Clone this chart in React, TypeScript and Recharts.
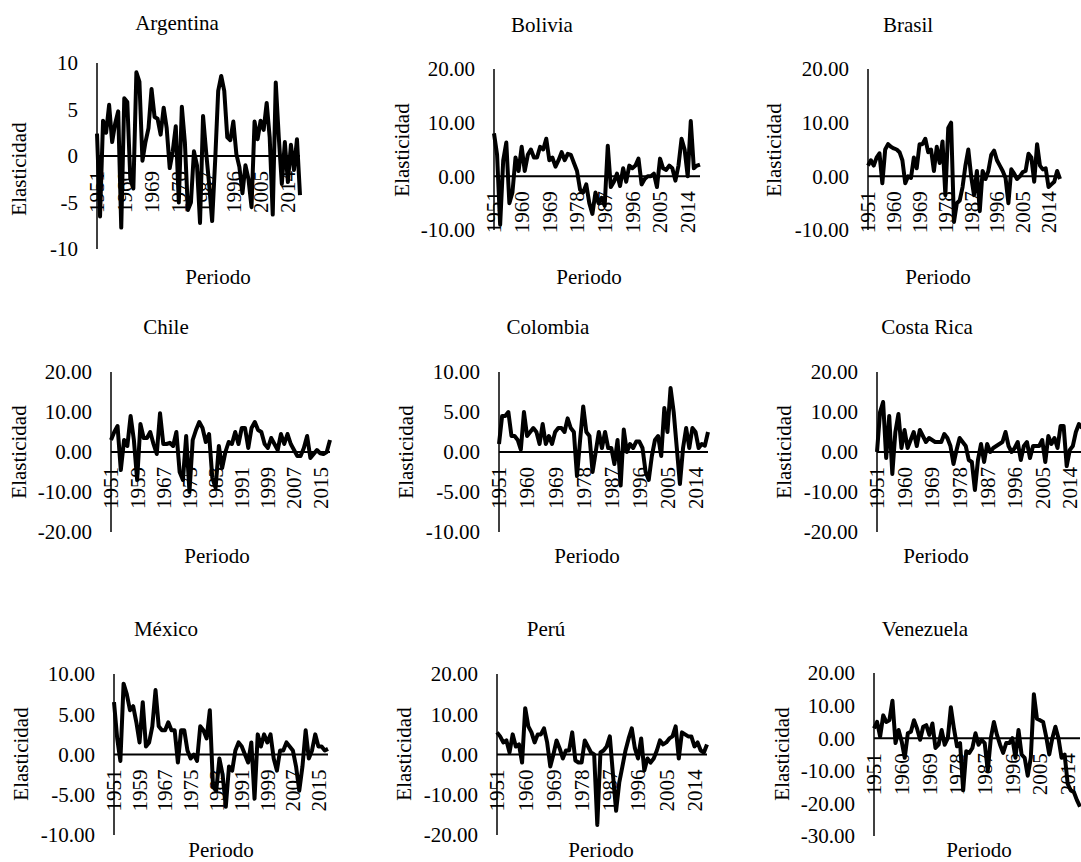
import { LineChart, Line, XAxis, YAxis, ReferenceLine } from 'recharts';

// x categories: one point per year, 1951-2018
const years = Array.from({ length: 68 }, (_, i) => 1951 + i);

const argentina = [
  2.4, -6.5, 3.8, 2.5, 5.5, 1.5, 3.5, 4.8, -7.7, 6.2, 5.8, -2.5, -3.5, 9.0, 8.0, -0.5, 1.5, 3.0, 7.2, 4.2,
  4.0, 2.3, 5.2, 3.0, -1.3, 0.5, 3.2, -5.0, 5.3, 1.5, -5.8, -5.0, 0.5, -1.0, -7.2, 4.3, 0.5, -3.0, -7.0, -0.5,
  7.0, 8.6, 7.0, 2.0, 1.7, 3.7, 0.2, -1.2, -4.0, -1.0, -2.5, -5.5, 3.7, 1.8, 3.8, 2.8, 5.7, 2.0, -6.3, 7.9,
  2.0, -3.0, 1.5, -2.8, 1.2, -1.5, 1.8, -4.2,
];
const bolivia = [
  8.0, 4.0, -9.0, 3.0, 6.3, -5.0, -3.0, 3.5, 1.0, 5.5, 1.0, 4.0, 5.0, 3.5, 3.5, 5.5, 5.0, 7.0, 3.0, 3.5,
  1.8, 3.0, 4.5, 3.0, 4.2, 4.0, 2.5, 1.0, -2.5, -3.0, -1.5, -5.0, -7.0, -3.0, -5.0, -4.0, -5.5, 5.7, -2.0, -1.0,
  0.5, -1.8, 1.5, -1.0, 2.0, 1.5, 2.0, 3.3, -1.5, -0.5, 0.0, 0.0, 0.5, -2.0, 3.3, 1.5, 1.2, 2.0, 1.5, -0.8,
  2.0, 7.0, 5.0, 0.0, 10.3, 1.5, 2.0, 2.2,
];
const brasil = [
  2.0, 3.0, 2.0, 3.5, 4.3, -1.3, 5.0, 6.0, 5.5, 5.2, 5.0, 4.5, 3.0, -1.3, 0.0, -0.3, 3.5, 1.5, 6.0, 6.0,
  7.0, 4.5, 5.0, 1.0, 5.5, 2.5, 6.5, -3.5, 9.0, 10.0, -8.5, -5.0, -4.5, -2.0, 2.0, 5.0, 0.0, -3.5, 1.0, -6.5,
  1.0, -0.5, 1.0, 4.0, 4.8, 3.0, 2.0, 1.0, -0.3, -5.0, 1.3, 0.5, -0.5, 0.0, 0.8, 1.0, 4.2, 3.5, -1.0, 6.0,
  2.0, 1.3, 1.5, -2.0, -1.5, -1.0, 1.0, -0.5,
];
const chile = [
  3.0, 5.0, 6.5, -4.5, 3.0, 1.5, 9.0, 3.0, -7.0, 7.0, 3.5, 3.5, 5.0, 2.0, -0.5, 9.7, 2.0, 2.0, 2.3, 1.5,
  5.0, -5.0, -7.0, 4.0, -10.0, 3.0, 5.5, 7.5, 6.0, 2.5, 4.5, -6.5, -9.0, 1.5, -4.0, 0.0, 2.5, 2.0, 5.0, 2.0,
  6.0, 6.0, 1.0, 6.0, 7.5, 5.5, 5.0, 2.0, 1.0, 3.5, 2.0, 0.5, 4.5, 2.0, 4.5, 2.0, 0.5, -1.0, -1.0, 1.0,
  4.0, -1.5, -0.5, 0.5, -0.3, -0.5, 0.0, 3.0,
];
const colombia = [
  1.0, 4.5, 4.5, 5.0, 2.0, 2.0, 1.5, 0.3, 5.0, 2.0, 2.5, 3.0, 2.5, 1.0, 3.5, 1.0, 2.0, 1.0, 2.5, 3.0,
  3.0, 2.5, 4.2, 3.0, 2.5, -3.0, 1.5, 5.7, 2.5, 2.0, -2.5, 0.0, 2.5, 0.5, 2.5, 0.5, 0.5, -1.5, 1.5, -4.2,
  2.8, 0.0, 1.0, 0.5, 1.3, 1.3, 0.5, -2.5, -3.5, -0.5, 1.5, 2.0, -0.5, 5.5, 2.5, 8.0, 5.0, 0.5, -4.0, 0.5,
  3.0, 0.5, 3.0, 2.5, 0.5, 1.0, 0.8, 2.5,
];
const costaRica = [
  0.0, 10.0, 12.5, -1.5, 9.0, -5.5, 5.0, 9.5, 1.0, 5.5, 1.0, 3.0, 5.0, 1.5, 5.5, 4.0, 2.5, 3.5, 3.0, 2.5,
  2.5, 2.5, 4.5, 3.5, 1.5, -3.0, 0.5, 3.5, 2.5, 1.5, -2.0, -2.5, -9.5, -2.0, 2.0, -2.5, 2.0, 0.0, 1.0, 1.5,
  2.0, 2.5, 5.0, 1.5, 0.0, 1.0, 2.5, -2.0, 1.5, 2.5, -1.5, 1.5, 1.5, 1.5, 3.0, -2.5, 4.0, 2.0, 3.5, 1.0,
  6.5, 6.5, -3.5, 0.5, 1.5, 5.0, 7.0, 6.0,
];
const mexico = [
  6.5, 2.0, -0.8, 8.8, 7.5, 5.5, 6.0, 4.0, 1.5, 6.5, 1.0, 1.5, 3.5, 8.0, 3.5, 3.0, 3.0, 4.0, 3.0, 3.0,
  -1.0, 3.0, 3.0, 0.5, -0.5, 0.0, -0.8, 3.5, 3.0, 2.0, 5.5, -4.0, -4.5, -0.5, -2.5, -6.5, -1.5, -2.0, 0.5, 1.5,
  1.0, 0.0, -1.0, 1.5, -5.5, 2.5, 1.0, 2.5, 1.5, 2.5, -0.5, -2.0, 0.5, 0.5, 1.5, 1.0, 0.5, -1.5, -4.5, -1.5,
  3.0, -0.5, 0.5, 2.5, 1.0, 1.0, 0.5, 0.7,
];
const peru = [
  5.5, 4.5, 3.0, 3.5, 0.5, 5.0, 2.0, 2.5, -2.0, 11.5, 7.0, 5.5, 3.0, 5.0, 5.0, 6.5, 3.0, -3.0, 0.0, 3.5,
  1.5, -1.0, 1.0, 1.0, 5.5, -1.5, -2.0, -2.0, 3.5, 2.0, 0.5, 0.0, -17.5, 0.5, 1.0, 2.0, 4.5, -5.0, -14.0, -7.0,
  -3.0, 1.0, 4.0, 6.5, 1.5, -1.0, 4.0, -4.0, -1.0, -2.0, -1.0, 1.0, 3.5, 2.5, 3.0, 4.0, 4.5, 7.0, -1.0, 5.5,
  5.0, 4.5, 4.5, 2.0, 3.0, 1.0, 0.5, 2.5,
];
const venezuela = [
  3.0, 5.0, 0.5, 7.0, 5.0, 5.5, 11.5, -1.5, 2.5, -1.0, -6.0, 1.5, 2.0, 5.5, 3.0, -0.5, 3.5, 4.0, 1.0, 4.5,
  -3.0, -2.0, 2.5, -2.0, 0.0, 9.5, 3.0, -2.5, -1.5, -16.0, -4.0, -4.5, -3.0, 1.5, -2.0, -0.5, -1.5, -10.0, 0.0, 5.0,
  1.0, -2.0, -4.5, -1.5, -1.5, 0.0, -6.0, 2.5, -5.0, -6.0, -11.5, -6.0, 13.5, 6.0, 5.5, 5.0, 0.5, -5.0, 0.0, 3.5,
  0.0, -6.0, -5.0, -14.0, -16.0, -16.5, -19.0, -21.0,
];

const ticksArg = [-10, -5, 0, 5, 10];
const ticks10 = [-10, -5, 0, 5, 10];
const ticksBol = [-10, 0, 10, 20];
const ticks20 = [-20, -10, 0, 10, 20];
const ticksVen = [-30, -20, -10, 0, 10, 20];

const FONT = '"Liberation Serif", "Times New Roman", serif';
const FS = 21;
const AXW = 80;
const TOP = 16;
const RIGHT = 4;
const XH = 2;
const BOTTOM = 16;

const panels = [
  { name: 'Argentina', values: argentina, ticks: ticksArg, dec: false, every: 8, box: { x: 97, y: 63, w: 203, h: 186 }, title: [177, 23], ylab: [19, 169], xlab: [218, 277] },
  { name: 'Bolivia', values: bolivia, ticks: ticksBol, dec: true, every: 8, box: { x: 494, y: 69, w: 206, h: 161 }, title: [542, 25], ylab: [402, 150], xlab: [589, 277] },
  { name: 'Brasil', values: brasil, ticks: ticksBol, dec: true, every: 8, box: { x: 868, y: 69, w: 192, h: 161 }, title: [908, 25], ylab: [774, 150], xlab: [938, 277] },
  { name: 'Chile', values: chile, ticks: ticks20, dec: true, every: 7, box: { x: 111, y: 372, w: 219, h: 160 }, title: [166, 327], ylab: [19, 452], xlab: [217, 556] },
  { name: 'Colombia', values: colombia, ticks: ticks10, dec: true, every: 8, box: { x: 499, y: 372, w: 209, h: 160 }, title: [548, 327], ylab: [406, 452], xlab: [587, 556] },
  { name: 'Costa Rica', values: costaRica, ticks: ticks20, dec: true, every: 8, box: { x: 877, y: 372, w: 205, h: 160 }, title: [927, 327], ylab: [784, 452], xlab: [936, 556] },
  { name: 'México', values: mexico, ticks: ticks10, dec: true, every: 7, box: { x: 114, y: 674, w: 214, h: 161 }, title: [166, 629], ylab: [21, 754], xlab: [221, 850] },
  { name: 'Perú', values: peru, ticks: ticks20, dec: true, every: 8, box: { x: 497, y: 674, w: 210, h: 161 }, title: [546, 629], ylab: [404, 754], xlab: [601, 850] },
  { name: 'Venezuela', values: venezuela, ticks: ticksVen, dec: true, every: 8, box: { x: 874, y: 673, w: 206, h: 163 }, title: [925, 629], ylab: [782, 754], xlab: [979, 850] },
];

const textStyle: React.CSSProperties = {
  position: 'absolute',
  fontFamily: FONT,
  fontSize: FS,
  lineHeight: '20px',
  color: '#000',
  whiteSpace: 'nowrap',
};

function Panel({ p }: { p: (typeof panels)[number] }) {
  const data = years.map((year, i) => ({ year, v: p.values[i] }));
  const min = p.ticks[0];
  const max = p.ticks[p.ticks.length - 1];
  // pixel row of the value 0, where the category labels hang
  const zeroY = TOP + (p.box.h * max) / (max - min);

  const renderXTick = (props: any) => {
    const { x, payload } = props;
    return (
      <text
        transform={`translate(${x},${zeroY + 15}) rotate(-90)`}
        textAnchor="end"
        dy="0.35em"
        fontSize={FS}
        fontFamily={FONT}
        fill="#000"
      >
        {payload.value}
      </text>
    );
  };

  return (
    <>
      <div style={{ position: 'absolute', left: p.box.x - AXW, top: p.box.y - TOP }}>
        <LineChart
          width={AXW + p.box.w + RIGHT}
          height={TOP + p.box.h + XH + BOTTOM}
          data={data}
          margin={{ top: TOP, right: RIGHT, bottom: BOTTOM, left: 0 }}
        >
          <XAxis
            dataKey="year"
            interval={p.every}
            height={XH}
            axisLine={false}
            tickLine={false}
            tick={renderXTick}
          />
          <YAxis
            type="number"
            domain={[min, max]}
            ticks={p.ticks}
            interval={0}
            width={AXW}
            tickLine={false}
            tickSize={0}
            tickMargin={19}
            axisLine={{ stroke: '#000', strokeWidth: 1.5 }}
            tick={{ fill: '#000', fontSize: FS, fontFamily: FONT }}
            tickFormatter={(v: number) => (p.dec ? v.toFixed(2) : String(v))}
          />
          <ReferenceLine y={0} stroke="#000" strokeWidth={2} />
          <Line
            type="linear"
            dataKey="v"
            stroke="#000"
            strokeWidth={4}
            strokeLinejoin="round"
            dot={false}
            isAnimationActive={false}
          />
        </LineChart>
      </div>
      <div style={{ ...textStyle, left: p.title[0], top: p.title[1], transform: 'translate(-50%, -50%)' }}>{p.name}</div>
      <div style={{ ...textStyle, left: p.ylab[0], top: p.ylab[1], transform: 'translate(-50%, -50%) rotate(-90deg)' }}>
        Elasticidad
      </div>
      <div style={{ ...textStyle, left: p.xlab[0], top: p.xlab[1], transform: 'translate(-50%, -50%)' }}>Periodo</div>
    </>
  );
}

export default function App() {
  return (
    <div
      style={{
        position: 'absolute',
        left: 0,
        top: 0,
        width: 1081,
        height: 862,
        overflow: 'hidden',
        background: '#fff',
      }}
    >
      {panels.map((p) => (
        <Panel key={p.name} p={p} />
      ))}
    </div>
  );
}
